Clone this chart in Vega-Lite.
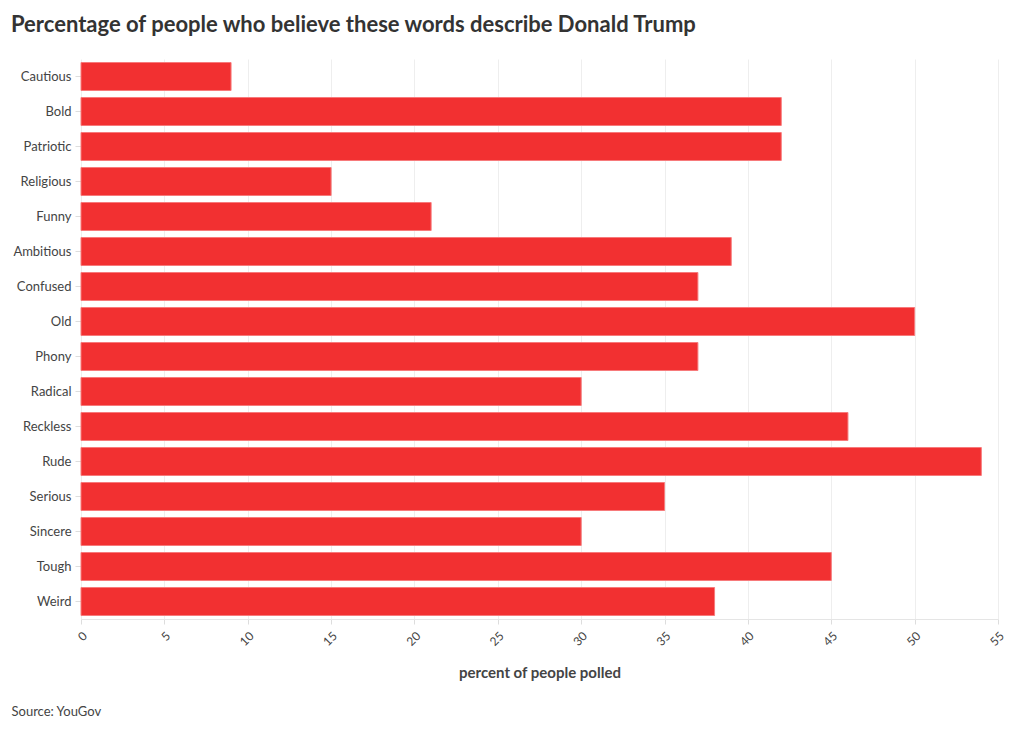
{
  "$schema": "https://vega.github.io/schema/vega-lite/v6.json",
  "autosize": "none",
  "padding": {"left": 81, "top": 59, "right": 22, "bottom": 112},
  "width": 917,
  "height": 560,
  "background": "white",
  "title": {
    "text": "Percentage of people who believe these words describe Donald Trump",
    "anchor": "start",
    "frame": "group",
    "dx": -70,
    "offset": 22,
    "font": "Lato",
    "fontSize": 22,
    "fontWeight": "bold",
    "color": "#333333"
  },
  "config": {
    "view": {"stroke": null},
    "font": "Lato"
  },
  "data": {
    "values": [
      {"word": "Cautious", "pct": 9},
      {"word": "Bold", "pct": 42},
      {"word": "Patriotic", "pct": 42},
      {"word": "Religious", "pct": 15},
      {"word": "Funny", "pct": 21},
      {"word": "Ambitious", "pct": 39},
      {"word": "Confused", "pct": 37},
      {"word": "Old", "pct": 50},
      {"word": "Phony", "pct": 37},
      {"word": "Radical", "pct": 30},
      {"word": "Reckless", "pct": 46},
      {"word": "Rude", "pct": 54},
      {"word": "Serious", "pct": 35},
      {"word": "Sincere", "pct": 30},
      {"word": "Tough", "pct": 45},
      {"word": "Weird", "pct": 38}
    ]
  },
  "layer": [
    {
      "mark": {"type": "bar", "color": "#f23031", "stroke": "#f77a7b", "strokeWidth": 1},
      "encoding": {
        "y": {
          "field": "word",
          "type": "nominal",
          "sort": null,
          "scale": {"paddingInner": 0.2, "paddingOuter": 0.1},
          "axis": {
            "title": null,
            "domain": false,
            "ticks": true,
            "tickSize": 6,
            "tickColor": "#dddddd",
            "labelFont": "Lato",
            "labelFontSize": 13,
            "labelColor": "#444444",
            "labelPadding": 4,
            "grid": false
          }
        },
        "x": {
          "field": "pct",
          "type": "quantitative",
          "scale": {"domain": [0, 55], "nice": false},
          "axis": {
            "title": "percent of people polled",
            "titleFont": "Lato",
            "titleFontSize": 15,
            "titleFontWeight": "bold",
            "titleColor": "#444444",
            "titlePadding": 18,
            "values": [0, 5, 10, 15, 20, 25, 30, 35, 40, 45, 50, 55],
            "labelAngle": -45,
            "labelFont": "Lato",
            "labelFontSize": 12,
            "labelColor": "#444444",
            "labelPadding": 6,
            "domain": true,
            "domainColor": "#e5e5e5",
            "ticks": true,
            "tickSize": 5,
            "tickColor": "#dddddd",
            "grid": true,
            "gridColor": "#eeeeee"
          }
        }
      }
    },
    {
      "mark": {"type": "point", "opacity": 0},
      "encoding": {
        "y": {"field": "word", "type": "nominal", "sort": null},
        "x": {
          "field": "pct",
          "type": "quantitative",
          "scale": {"domain": [0, 55], "nice": false},
          "axis": {
            "orient": "bottom",
            "title": "Source: YouGov",
            "titleFont": "Lato",
            "titleFontSize": 13,
            "titleFontWeight": "normal",
            "titleColor": "#444444",
            "titleAnchor": "start",
            "titleAlign": "left",
            "titleBaseline": "middle",
            "titleX": -70,
            "titleY": 92,
            "labels": false,
            "ticks": false,
            "domain": false,
            "grid": false
          }
        }
      }
    }
  ],
  "resolve": {"scale": {"x": "independent"}, "axis": {"x": "independent"}}
}
